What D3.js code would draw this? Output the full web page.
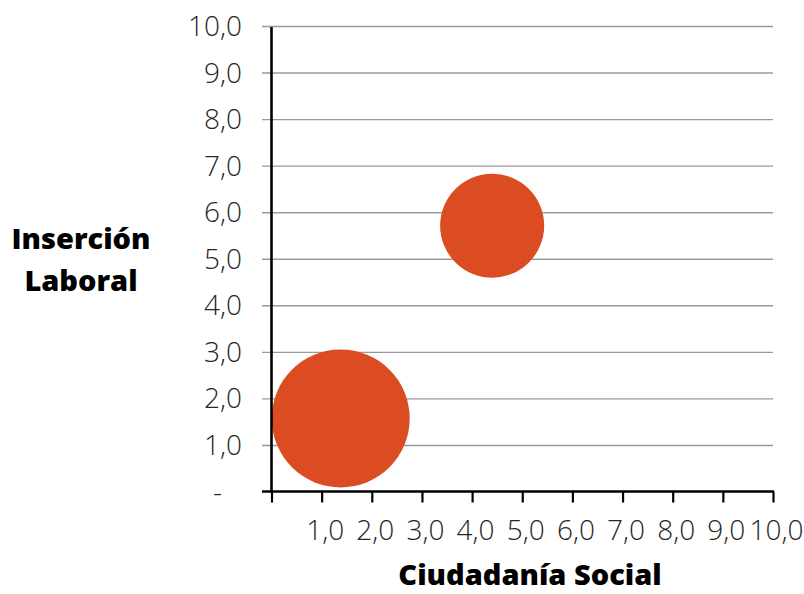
<!DOCTYPE html>
<html><head><meta charset="utf-8">
<script src="https://cdn.jsdelivr.net/npm/d3@7"></script>
<style>
html,body{margin:0;padding:0;background:#fff;}
svg{display:block;}
</style></head>
<body>
<svg id="chart" width="804" height="594"></svg>
<script>
// Data
const bubbleX = [4.40, 1.38];
const bubbleY = [5.71, 1.57];
const bubbleSize = [5.0, 8.8];
const xTicks = [0,1,2,3,4,5,6,7,8,9,10];
const xTickLabels = ["", "1,0","2,0","3,0","4,0","5,0","6,0","7,0","8,0","9,0","10,0"];
const yTicks = [0,1,2,3,4,5,6,7,8,9,10];
const yTickLabels = ["-", "1,0","2,0","3,0","4,0","5,0","6,0","7,0","8,0","9,0","10,0"];
const xTitle = "Ciudadanía Social";
const yTitleLines = ["Inserción", "Laboral"];

const svg = d3.select("#chart");
const x = d3.scaleLinear().domain([0,10]).range([271.5, 773]);
const y = d3.scaleLinear().domain([0,10]).range([491.5, 26]);
const r = d3.scaleSqrt().domain([0, d3.max(bubbleSize)]).range([0, 69]);

const labelFont = "'Open Sans', sans-serif";

// gridlines (with small tick stubs on the left)
const gy = svg.append("g").attr("transform", `translate(${x(0)},0)`)
  .call(d3.axisLeft(y).tickValues(yTicks.filter(v => v > 0))
    .tickSize(-(x(10) - x(0))).tickSizeOuter(0).tickFormat(""));
gy.select(".domain").remove();
gy.selectAll(".tick line").attr("stroke", "#9a9a9a").attr("stroke-width", 1.4)
  .attr("x1", -9.5).attr("x2", x(10) - x(0));

// bubbles
svg.append("clipPath").attr("id", "plotclip").append("rect")
  .attr("x", x(0)).attr("y", y(10) - 80).attr("width", x(10) - x(0) + 80).attr("height", y(0) - y(10) + 80);
svg.append("g").attr("clip-path", "url(#plotclip)")
  .selectAll("circle").data(bubbleX.map((d,i) => ({x:d, y:bubbleY[i], s:bubbleSize[i]})))
  .join("circle")
  .attr("cx", d => x(d.x)).attr("cy", d => y(d.y)).attr("r", d => r(d.s))
  .attr("fill", "#DC4C22");

// y tick labels
svg.append("g").selectAll("text").data(yTicks).join("text")
  .attr("x", (d,i) => yTickLabels[i] === "-" ? 222 : 242)
  .attr("y", d => y(d))
  .attr("dy", "0.36em")
  .attr("text-anchor", "end")
  .attr("font-family", labelFont).attr("font-weight", 300)
  .attr("font-size", 28).attr("fill", "#262626")
  .text((d,i) => yTickLabels[i]);

// x axis
const gx = svg.append("g").attr("transform", `translate(0,${y(0)})`)
  .call(d3.axisBottom(x).tickValues(xTicks).tickSize(11).tickSizeOuter(0)
    .tickFormat((d,i) => xTickLabels[i]).tickPadding(18));
gx.select(".domain").attr("stroke", "#000").attr("stroke-width", 2.4)
  .attr("d", `M${x(0) - 9.5},0H${x(10) + 1}`);
gx.selectAll(".tick line").attr("stroke", "#000").attr("stroke-width", 2.2);
gx.selectAll(".tick text").attr("font-family", labelFont).attr("font-weight", 300)
  .attr("font-size", 28).attr("fill", "#262626").attr("dx", 3);

// y axis line
svg.append("line").attr("x1", x(0)).attr("x2", x(0))
  .attr("y1", y(10) + 1).attr("y2", y(0))
  .attr("stroke", "#000").attr("stroke-width", 2.6);

// titles
svg.append("text").attr("x", 530).attr("y", 585)
  .attr("text-anchor", "middle")
  .attr("font-family", labelFont).attr("font-weight", 800).attr("font-size", 29)
  .attr("fill", "#000").text(xTitle);

svg.append("g").selectAll("text").data(yTitleLines).join("text")
  .attr("x", 81).attr("y", (d,i) => 249 + i * 42)
  .attr("text-anchor", "middle")
  .attr("font-family", labelFont).attr("font-weight", 800).attr("font-size", 29)
  .attr("fill", "#000").text(d => d);
</script>
</body></html>
